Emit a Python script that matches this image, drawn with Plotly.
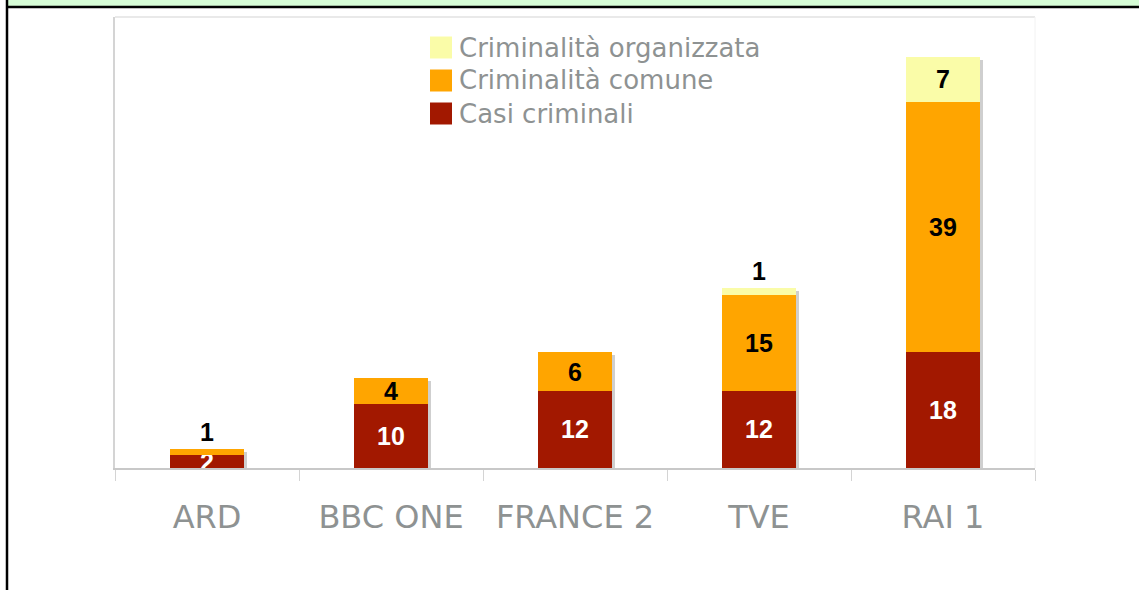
import plotly.graph_objects as go

# ---------------- data ----------------
categories = ["ARD", "BBC ONE", "FRANCE 2", "TVE", "RAI 1"]
series_names = ["Casi criminali", "Criminalità comune", "Criminalità organizzata"]
casi_criminali = [2, 10, 12, 12, 18]
criminalita_comune = [1, 4, 6, 15, 39]
criminalita_organizzata = [0, 0, 0, 1, 7]

# ---------------- style ----------------
colors = ["#A21800", "#FFA500", "#FAFCA8"]
label_colors = ["white", "black", "black"]
W, H = 1139, 590
L, R, T, B = 115, 1035, 17, 468          # plot area in px
Y_MAX = 70.2
BAR_W = 0.4
SH_PX = 3                                 # shadow offset in px

def px_x(p):
    return (p - L) / (R - L)

def px_y(p):
    return (B - p) / (B - T)

series = [casi_criminali, criminalita_comune, criminalita_organizzata]
totals = [sum(v) for v in zip(*series)]

fig = go.Figure()

# shadow bars (base subplot, drawn underneath)
fig.add_trace(go.Bar(
    x=categories, y=totals, width=BAR_W, marker_color="#cfcfcf",
    marker_line_width=0, showlegend=False, hoverinfo="skip",
    xaxis="x", yaxis="y"))

label_font = dict(family="Liberation Sans, Arial", size=25, weight="bold")

# stacked main bars
for idx, (name, vals) in enumerate(zip(series_names, series)):
    yv = [v if v else None for v in vals]
    positions = []
    for j, v in enumerate(vals):
        is_top = all(not s[j] for s in series[idx + 1:])
        positions.append("outside" if (is_top and v <= 1) else "inside")
    fig.add_trace(go.Bar(
        name=name, x=categories, y=yv, width=BAR_W,
        marker_color=colors[idx], marker_line_width=0,
        text=[str(v) if v else "" for v in vals],
        textposition=positions, textangle=0, constraintext="none",
        insidetextanchor="middle",
        textfont=dict(label_font, color=label_colors[idx]),
        outsidetextfont=dict(label_font, color="black"),
        cliponaxis=False, showlegend=False,
        xaxis="x2", yaxis="y2"))

dx = SH_PX / ((R - L) / len(categories))
dy = SH_PX * Y_MAX / (B - T)

text_font = "DejaVu Sans"
text_gray = "#8e9292"

fig.update_layout(
    width=W, height=H,
    margin=dict(l=L, r=W - R, t=T, b=H - B, pad=0),
    paper_bgcolor="white", plot_bgcolor="white",
    barmode="stack", bargap=0.6,
    xaxis=dict(domain=[0, 1], range=[-0.5 - dx, len(categories) - 0.5 - dx],
               visible=False, fixedrange=True),
    yaxis=dict(domain=[0, 1], range=[dy, Y_MAX + dy], visible=False),
    xaxis2=dict(overlaying="x", anchor="y2", domain=[0, 1],
                range=[-0.5, len(categories) - 0.5],
                type="category", tickson="boundaries", ticks="outside",
                ticklen=11, tickcolor="#d4d4d4", tickwidth=1,
                showline=True, linecolor="#c8c8c8", linewidth=1.5,
                showgrid=False, zeroline=False,
                tickfont=dict(family=text_font, size=32, color=text_gray),
                ticklabelstandoff=20),
    yaxis2=dict(overlaying="y", anchor="x2", domain=[0, 1], range=[0, Y_MAX],
                showline=True, linecolor="#d4d4d4", linewidth=1.5,
                showticklabels=False, ticks="", showgrid=False, zeroline=False),
    font=dict(family="DejaVu Sans"),
)

shapes = []
# plot box top & right (faint)
shapes.append(dict(type="line", xref="paper", yref="paper", x0=0, x1=1, y0=1, y1=1,
                   line=dict(color="#e2e2e2", width=1.5)))
shapes.append(dict(type="line", xref="paper", yref="paper", x0=1, x1=1, y0=0, y1=1,
                   line=dict(color="#f2f2f2", width=1)))
# outer frame: green band, black top and left lines
shapes.append(dict(type="rect", xref="paper", yref="paper",
                   x0=px_x(7), x1=px_x(W + 5), y0=px_y(-5), y1=px_y(6),
                   fillcolor="#d6fdd6", line_width=0, layer="above"))
shapes.append(dict(type="line", xref="paper", yref="paper",
                   x0=px_x(6), x1=px_x(W + 5), y0=px_y(7), y1=px_y(7),
                   line=dict(color="black", width=2.5)))
shapes.append(dict(type="line", xref="paper", yref="paper",
                   x0=px_x(7), x1=px_x(7), y0=px_y(-5), y1=px_y(H + 5),
                   line=dict(color="black", width=2.5)))

# custom legend (top entry first: reversed stack order)
annotations = []
leg_x, leg_y0, leg_dy, sw = 430, 47.5, 33, 22
for k, idx in enumerate(reversed(range(len(series_names)))):
    cy = leg_y0 + k * leg_dy
    shapes.append(dict(type="rect", xref="paper", yref="paper",
                       x0=px_x(leg_x), x1=px_x(leg_x + sw),
                       y0=px_y(cy + sw / 2), y1=px_y(cy - sw / 2),
                       fillcolor=colors[idx], line_width=0))
    annotations.append(dict(xref="paper", yref="paper", x=px_x(leg_x + 27), y=px_y(cy),
                            xanchor="left", yanchor="middle", showarrow=False,
                            text=series_names[idx],
                            font=dict(family=text_font, size=26, color=text_gray)))

fig.update_layout(shapes=shapes, annotations=annotations)
fig.write_html("out.html", config={"displayModeBar": False},
               post_script="document.body.style.margin='0';document.body.style.overflow='hidden';")
